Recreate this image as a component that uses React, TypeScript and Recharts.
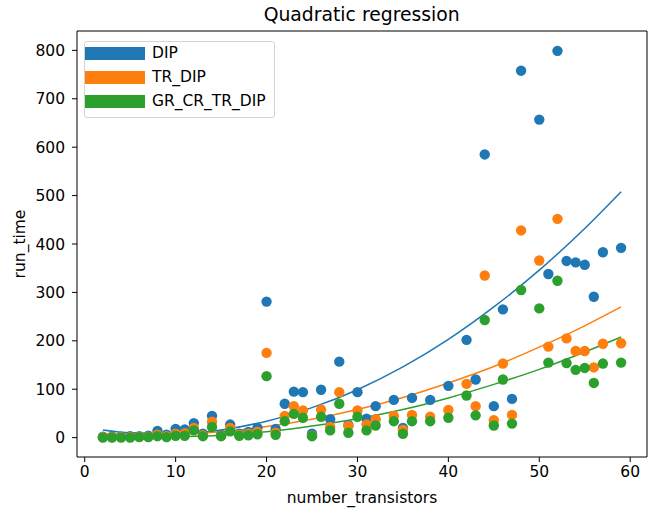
import {
	ComposedChart,
	Scatter,
	Line,
	XAxis,
	YAxis,
	Legend,
	ReferenceArea,
} from "recharts"

// number of transistors per run
const transistors = [
	2, 3, 4, 5, 6, 7, 8, 9, 10, 11, 12, 13, 14, 15, 16, 17, 18, 19, 20, 21, 22, 23, 24, 25, 26, 27, 28, 29, 30, 31, 32,
	34, 35, 36, 38, 40, 42, 43, 44, 45, 46, 47, 48, 50, 51, 52, 53, 54, 55, 56, 57, 59,
]
const dipTimes = [
	2, 2, 2, 3, 3, 4, 14, 6, 18, 17, 30, 8, 45, 6, 27, 8, 12, 20, 281, 18, 70, 95, 94, 8, 99, 38, 157, 26, 94, 39, 65,
	78, 20, 82, 78, 107, 202, 120, 585, 65, 265, 80, 758, 657, 338, 799, 365, 362, 357, 291, 383, 392,
]
const trDipTimes = [
	1, 1, 1, 1, 2, 2, 6, 3, 8, 9, 20, 5, 33, 4, 20, 6, 8, 12, 175, 10, 45, 65, 56, 4, 58, 22, 94, 24, 56, 27, 38,
	45, 16, 47, 43, 57, 111, 65, 335, 36, 153, 47, 428, 366, 188, 452, 205, 179, 179, 145, 194, 195,
]
const grCrTrDipTimes = [
	0, 0, 0, 0, 1, 1, 3, 1, 4, 4, 15, 3, 22, 3, 13, 4, 5, 7, 127, 6, 34, 49, 41, 3, 43, 15, 70, 10, 43, 15, 25,
	34, 8, 34, 34, 41, 87, 46, 243, 25, 120, 29, 305, 267, 155, 324, 154, 140, 144, 113, 153, 155,
]

// fitted curves
const fitX = [2, 5, 10, 15, 20, 25, 30, 35, 40, 45, 50, 55, 59]
const dipFit = [16, 10, 8, 16, 34, 62, 99, 146, 203, 270, 346, 432, 508]
const trDipFit = [8, 6, 7, 12, 23, 38, 58, 83, 113, 147, 187, 231, 270]
const grCrTrDipFit = [5, 3, 2, 5, 12, 24, 39, 58, 82, 110, 141, 177, 208]

const xTicks = [0, 10, 20, 30, 40, 50, 60]
const yTicks = [0, 100, 200, 300, 400, 500, 600, 700, 800]

const names = ["DIP", "TR_DIP", "GR_CR_TR_DIP"]
const colors = ["#1f77b4", "#ff7f0e", "#2ca02c"]

const font = "'DejaVu Sans', sans-serif"

const toPoints = (xs: number[], ys: number[]) => xs.map((x, i) => ({ x, y: ys[i] }))

const pointSets = [dipTimes, trDipTimes, grCrTrDipTimes].map((ys) => toPoints(transistors, ys))
const fitSets = [dipFit, trDipFit, grCrTrDipFit].map((ys) => toPoints(fitX, ys))

const dot = (color: string) => (props: any) => <circle cx={props.cx} cy={props.cy} r={5.2} fill={color} />

function LegendBox() {
	return (
		<div
			style={{
				width: 191,
				height: 77,
				boxSizing: "border-box",
				border: "1px solid #d4d4d4",
				borderRadius: 3,
				background: "rgba(255,255,255,0.8)",
				position: "relative",
				fontFamily: font,
				fontSize: 15.5,
				color: "#000",
			}}
		>
			{names.map((name, i) => (
				<div key={name} style={{ position: "absolute", left: 0, top: 5 + i * 24, height: 13, display: "flex", alignItems: "center" }}>
					<div style={{ width: 60, height: 12.5, background: colors[i] }} />
					<span style={{ marginLeft: 7, lineHeight: "13px" }}>{name}</span>
				</div>
			))}
		</div>
	)
}

export default function App() {
	return (
		<div style={{ position: "absolute", left: 0, top: 0, width: 664, height: 512, background: "#fff", fontFamily: font }}>
			<ComposedChart width={664} height={512} margin={{ top: 31, right: 17, left: 0, bottom: 0 }}>
				<XAxis
					dataKey="x"
					type="number"
					domain={[-0.85, 61.85]}
					ticks={xTicks}
					interval={0}
					allowDataOverflow
					height={55}
					axisLine={false}
					tickLine={{ stroke: "#000" }}
					tickSize={5}
					tickMargin={4}
					tick={{ fill: "#000", fontSize: 15.5, fontFamily: font }}
					label={{ value: "number_transistors", position: "insideBottom", offset: 9, fill: "#000", fontSize: 15.5, fontFamily: font }}
				/>
				<YAxis
					dataKey="y"
					type="number"
					domain={[-40, 840]}
					ticks={yTicks}
					interval={0}
					allowDataOverflow
					width={77}
					axisLine={false}
					tickLine={{ stroke: "#000" }}
					tickSize={5}
					tickMargin={7}
					tick={{ fill: "#000", fontSize: 15.5, fontFamily: font }}
				/>
				<ReferenceArea x1={-0.85} x2={61.85} y1={-40} y2={840} fill="none" stroke="#000" strokeWidth={1} ifOverflow="visible" />
				{pointSets.map((pts, i) => (
					<Scatter key={names[i]} name={names[i]} data={pts} dataKey="y" fill={colors[i]} shape={dot(colors[i])} isAnimationActive={false} />
				))}
				{fitSets.map((pts, i) => (
					<Line
						key={names[i] + "-fit"}
						data={pts}
						dataKey="y"
						type="monotone"
						stroke={colors[i]}
						strokeWidth={1.5}
						dot={false}
						activeDot={false}
						legendType="none"
						isAnimationActive={false}
					/>
				))}
				<Legend
					layout="horizontal"
					verticalAlign="middle"
					align="center"
					wrapperStyle={{ left: 84, top: 41, width: 191, height: 77 }}
					content={() => <LegendBox />}
				/>
			</ComposedChart>
			<svg width={664} height={512} style={{ position: "absolute", left: 0, top: 0, pointerEvents: "none" }}>
				<text x={361.7} y={20.5} textAnchor="middle" fontSize={18.8} fontFamily={font} fill="#000">
					Quadratic regression
				</text>
				<text x={25} y={244} textAnchor="middle" fontSize={15.5} fontFamily={font} fill="#000" transform="rotate(-90 25 244)">
					run_time
				</text>
			</svg>
		</div>
	)
}
